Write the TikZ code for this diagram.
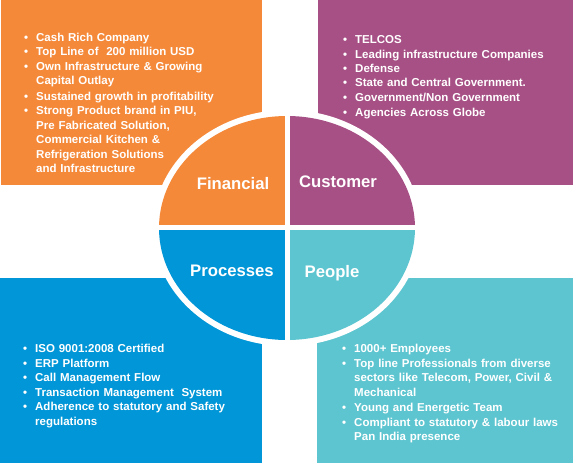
\documentclass[tikz,border=0pt]{standalone}
\usepackage{fontspec}
\setmainfont{Liberation Sans}
\definecolor{finorange}{HTML}{F5893A}
\definecolor{kundlila}{HTML}{A75085}
\definecolor{prozblau}{HTML}{0096D7}
\definecolor{leuttuerkis}{HTML}{5DC5D0}
% Aufzaehlungspunkt, Folgezeilen eingerueckt
\newcommand{\punkt}[1]{\par\noindent\makebox[12pt][l]{\textbullet}%
  \parbox[t]{230pt}{\raggedright\strut#1\strut}}
\newcommand{\ohnepunkt}[1]{\par\noindent\hspace*{12pt}\strut#1}
\tikzset{
  liste/.style={anchor=north west,inner sep=0pt,text=white,text width=245pt,
    font=\fontsize{11.5}{14.5}\selectfont\bfseries},
  kopf/.style={anchor=base,inner sep=0pt,text=white,
    font=\fontsize{16.7}{20}\selectfont\bfseries}
}
\begin{document}
\begin{tikzpicture}[x=1pt,y=-1pt]
\useasboundingbox (0,0) rectangle (573,463);
% Mittelpunkt der Ellipse
\coordinate (M) at (287,228);
% Rechtecke
\fill[finorange]    (0.5,0)  rectangle (262,185);
\fill[kundlila]     (318,0)  rectangle (573,185);
\fill[prozblau]     (0,278)  rectangle (262,463);
\fill[leuttuerkis]  (317,278) rectangle (573,463);
% weisser Ring um die Ellipse
\fill[white] (M) ellipse [x radius=134,y radius=118];
% Viertel der Ellipse
\begin{scope}
\clip (M) ellipse [x radius=128,y radius=112];
\fill[finorange]   (150,100) rectangle (M);
\fill[kundlila]    (430,100) rectangle (M);
\fill[prozblau]    (150,350) rectangle (M);
\fill[leuttuerkis] (430,350) rectangle (M);
\end{scope}
% Trennlinien
\draw[white,line width=5pt] (287,108) -- (287,348);
\draw[white,line width=5pt] (152,227.5) -- (422,227.5);
% Beschriftungen der Viertel
\node[kopf] (fin)  at (233,189.3) {Financial};
\node[kopf] (kund) at (338,187.3) {Customer};
\node[kopf] (proz) at (232,276)   {Processes};
\node[kopf] (leut) at (332,277.7) {People};
% Listen
\node[liste] (finliste) at (24,26.4) {%
  \punkt{Cash Rich Company}
  \punkt{Top Line of\ \ 200 million USD}
  \punkt{Own Infrastructure \& Growing\newline Capital Outlay}
  \punkt{Sustained growth in profitability}
  \punkt{Strong Product brand in PIU,\newline Pre Fabricated Solution,\newline
    Commercial Kitchen \&\newline Refrigeration Solutions\newline and Infrastructure}};
\node[liste] (kundliste) at (343,28.8) {%
  \punkt{TELCOS}
  \punkt{Leading infrastructure Companies}
  \punkt{Defense}
  \punkt{State and Central Government.}
  \punkt{Government/Non Government}
  \punkt{Agencies Across Globe}};
\node[liste] (prozliste) at (23,338) {%
  \punkt{ISO 9001:2008 Certified}
  \punkt{ERP Platform}
  \punkt{Call Management Flow}
  \punkt{Transaction Management\ \ System}
  \punkt{Adherence to statutory and Safety\newline regulations}};
\node[liste] (leutliste) at (342,338) {%
  \punkt{1000+ Employees}
  \punkt{Top line Professionals from diverse\newline sectors like Telecom, Power, Civil \&\newline Mechanical}
  \punkt{Young and Energetic Team}
  \punkt{Compliant to statutory \& labour laws}
  \ohnepunkt{Pan India presence}};
\end{tikzpicture}
\end{document}
